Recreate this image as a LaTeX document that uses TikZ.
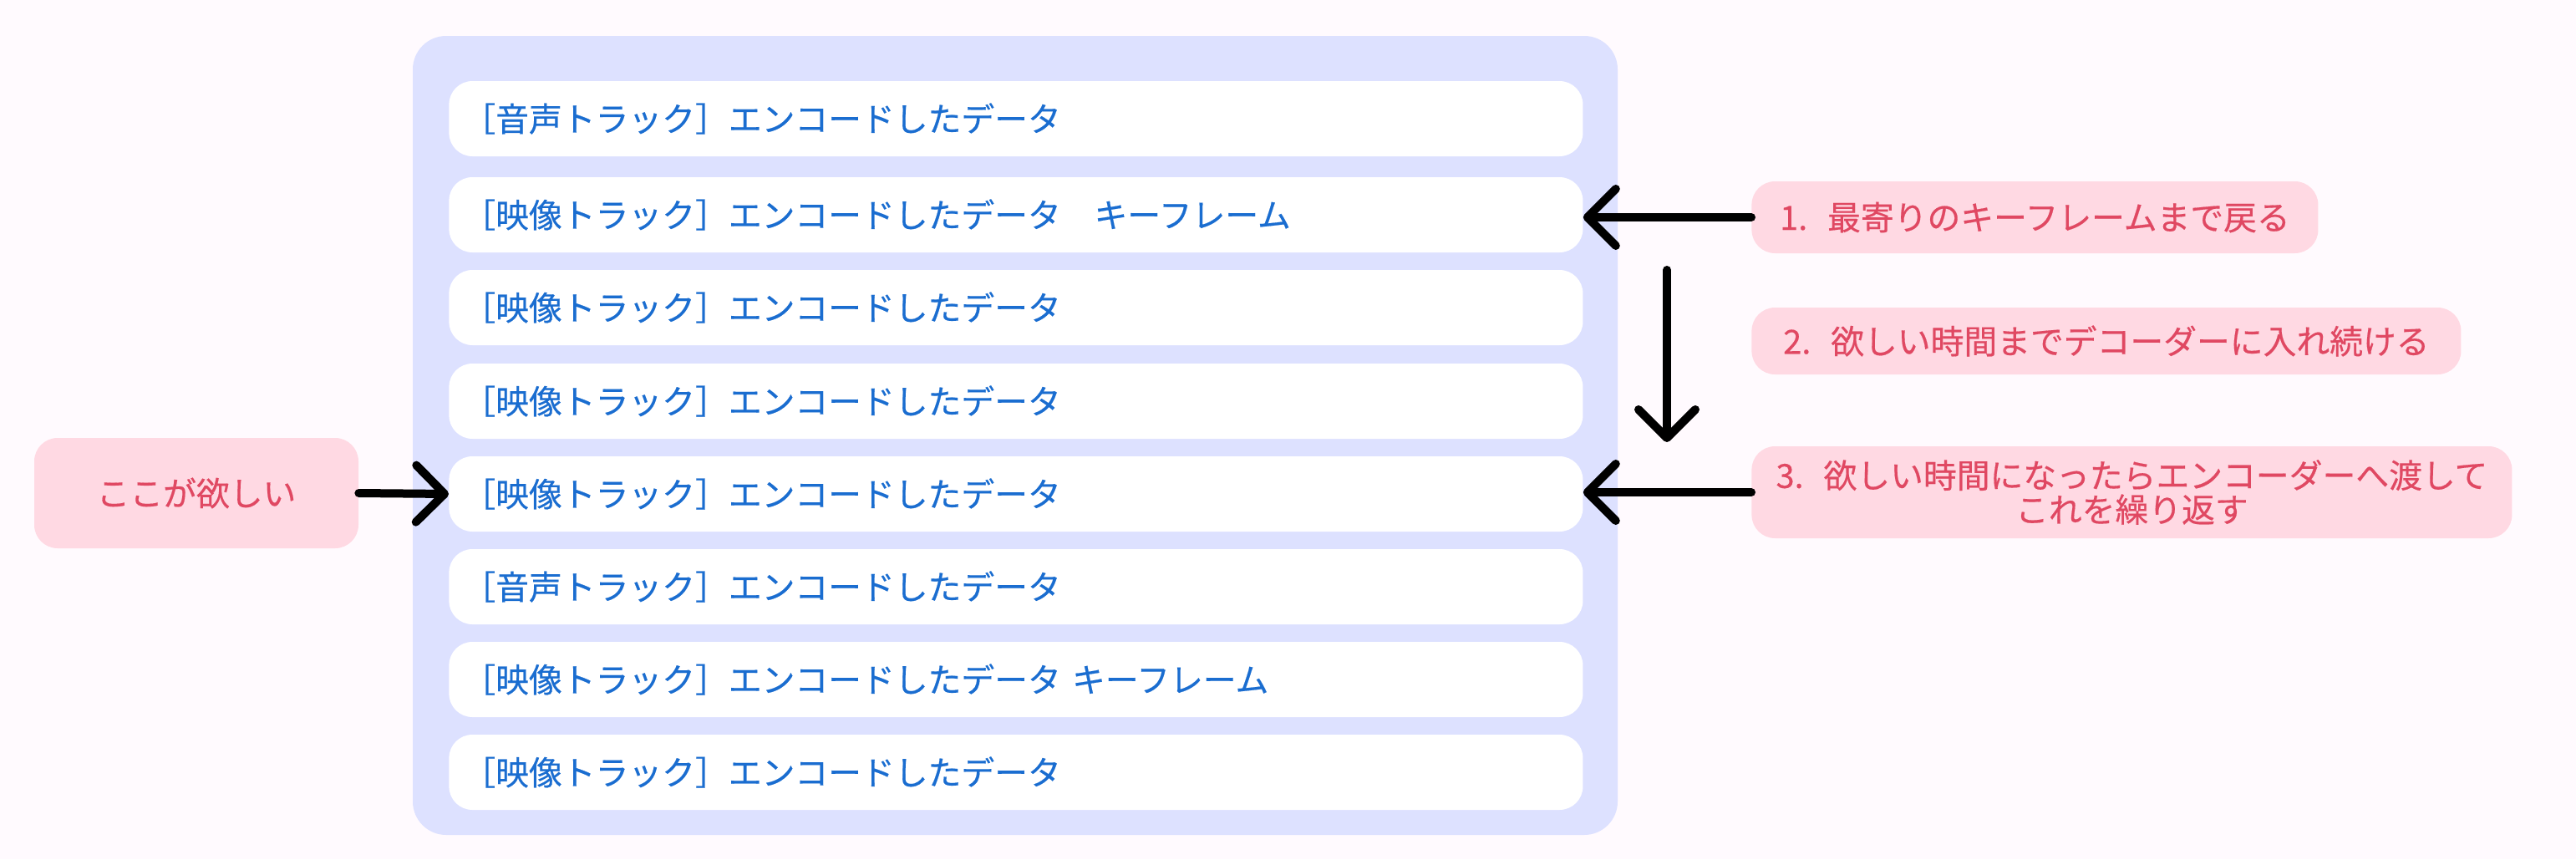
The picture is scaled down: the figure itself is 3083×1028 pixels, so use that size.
\documentclass[tikz,border=0pt]{standalone}
\usepackage{fontspec}
\setmainfont{Noto Sans CJK JP}[FakeBold=0.4]
\usetikzlibrary{arrows.meta}
\definecolor{pagebg}{HTML}{FFFAFE}
\definecolor{framebg}{HTML}{DDE1FF}
\definecolor{tracktext}{HTML}{1A6DD0}
\definecolor{notebg}{HTML}{FFD9E3}
\definecolor{notetext}{HTML}{E04862}
\tikzset{
	track/.style={fill=white, rounded corners=14pt, anchor=west, minimum width=678.5pt, minimum height=45pt,
		inner xsep=8pt, text width=662.5pt, align=left, text=tracktext},
	note/.style={fill=notebg, rounded corners=14pt, text=notetext, align=center, inner sep=0pt},
	arw/.style={line width=5pt, line cap=round, -{Straight Barb[length=17pt,width=34pt,round]}}
}
\begin{document}
\begin{tikzpicture}[x=0.5pt, y=-0.5pt, font=\fontsize{19.9}{20.5}\selectfont]
	\fill[pagebg] (0,0) rectangle (3083,1028);
	\useasboundingbox (0,0) rectangle (3083,1028);
	% packet list
	\fill[framebg, rounded corners=20pt] (494,43) rectangle (1936,999);
	\foreach \y/\txt [count=\i] in {142/{［音声トラック］エンコードしたデータ},
		257/{［映像トラック］エンコードしたデータ　キーフレーム},
		368/{［映像トラック］エンコードしたデータ},
		480/{［映像トラック］エンコードしたデータ},
		591/{［映像トラック］エンコードしたデータ},
		702/{［音声トラック］エンコードしたデータ},
		813/{［映像トラック］エンコードしたデータ キーフレーム},
		924/{［映像トラック］エンコードしたデータ}}
		\node[track] (row\i) at (537,\y) {\txt};
	% notes
	\node[note, minimum width=194pt, minimum height=66pt] (want) at (235,590) {ここが欲しい};
	\node[note, anchor=west, minimum width=339pt, minimum height=43pt] (step1) at (2096,260)
		{1.\hspace{0.6em}最寄りのキーフレームまで戻る};
	\node[note, anchor=west, minimum width=424.5pt, minimum height=40pt] (step2) at (2096,408)
		{2.\hspace{0.6em}欲しい時間までデコーダーに入れ続ける};
	\node[note, anchor=west, minimum width=455pt, minimum height=55pt] (step3) at (2096,589)
		{3.\hspace{0.6em}欲しい時間になったらエンコーダーへ渡して\\これを繰り返す};
	\coordinate (scantop) at (1995,323);
	\coordinate (scanend) at (1995,529);
	% arrows
	\draw[arw] (want.east) -- (row5.west);
	\draw[arw] (step1.west) -- (step1.west -| row2.east);
	\draw[arw] (scantop) -- (scanend);
	\draw[arw] (step3.west) -- (step3.west -| row5.east);
\end{tikzpicture}
\end{document}
